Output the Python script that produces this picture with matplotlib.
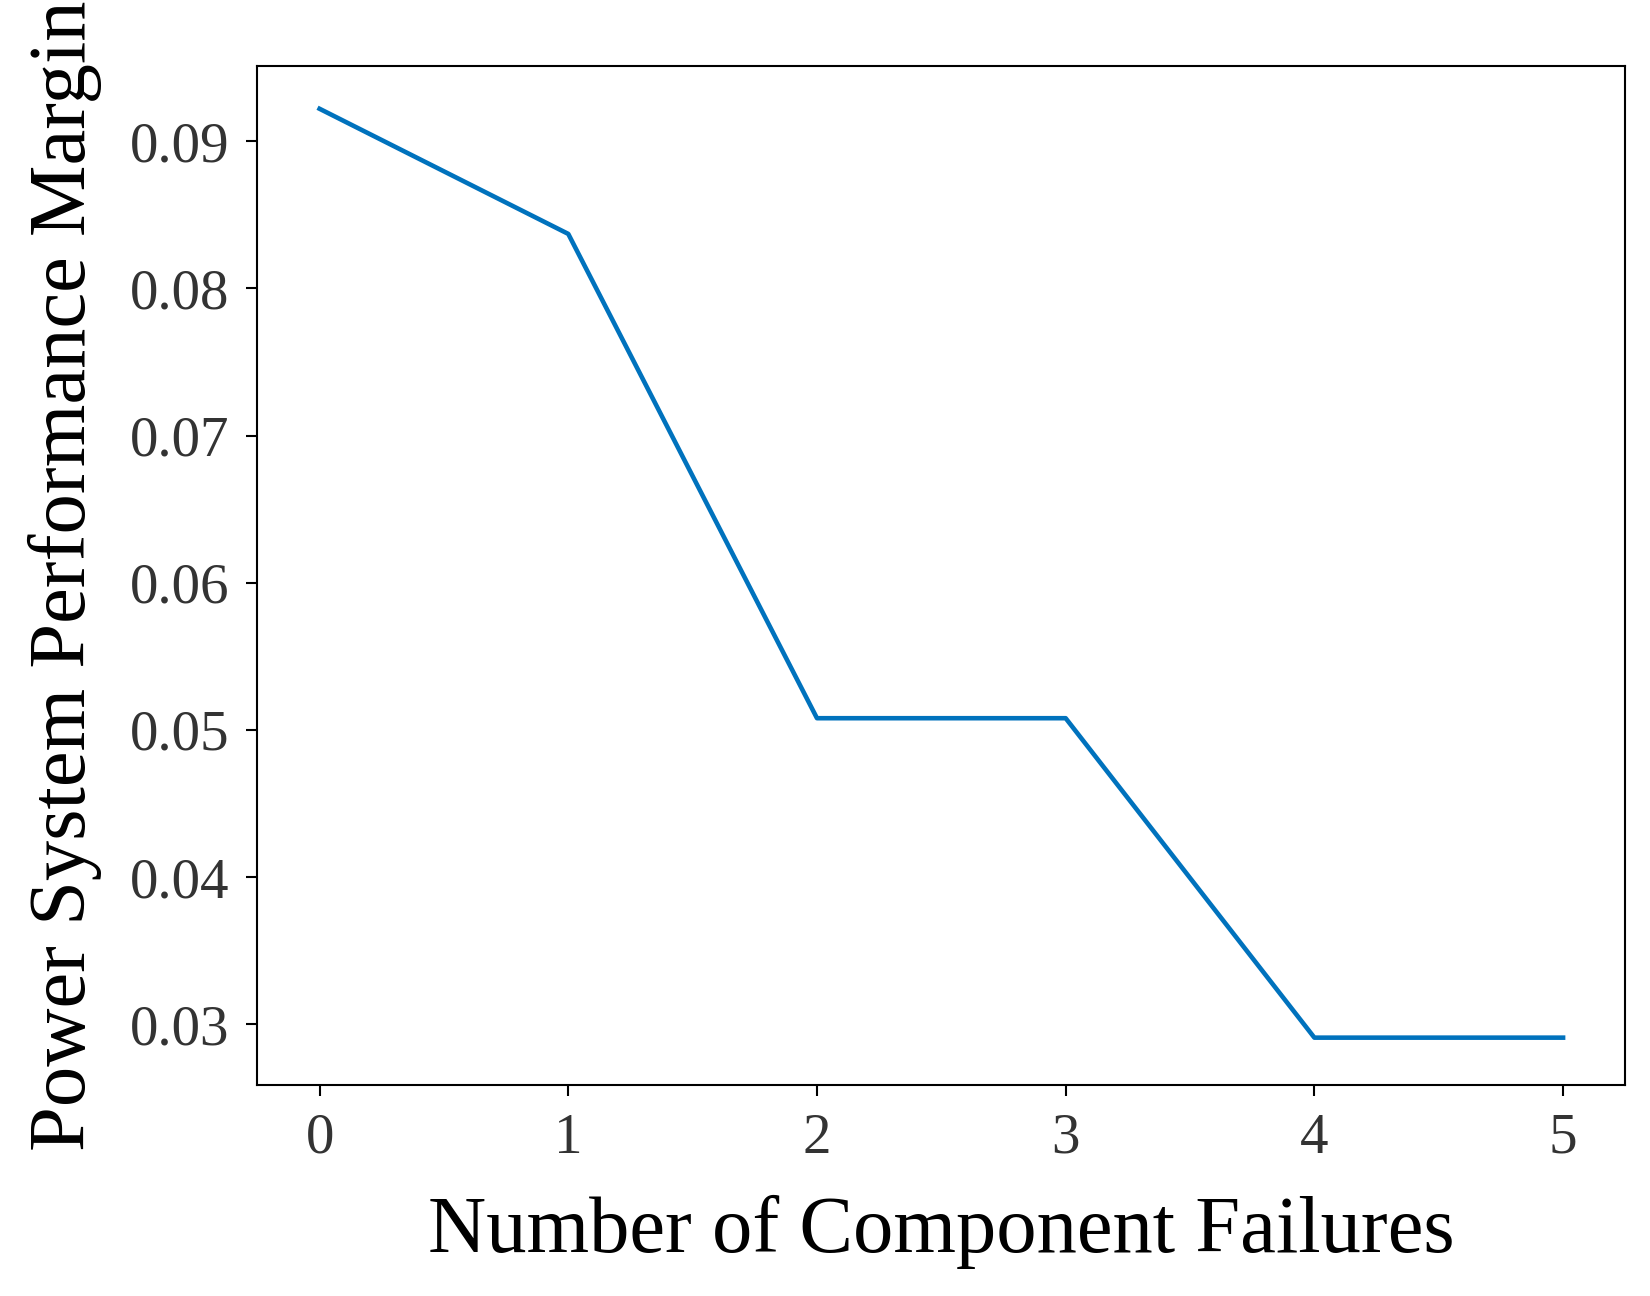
import matplotlib.pyplot as plt

failures = [0, 1, 2, 3, 4, 5]
margin = [0.0922, 0.0837, 0.0508, 0.0508, 0.0291, 0.0291]

plt.rcParams['font.family'] = ['Liberation Serif', 'DejaVu Serif']

fig = plt.figure(figsize=(16.5, 12.96), dpi=100)
ax = fig.add_axes([0.156, 0.163, 0.829, 0.786])
ax.plot(failures, margin, color='#0072BD', linewidth=3.3)
ax.set_xlim(-0.25, 5.25)
ax.set_ylim(0.0259, 0.0951)
ax.set_xticks(failures)
ax.set_yticks([0.03, 0.04, 0.05, 0.06, 0.07, 0.08, 0.09])
ax.set_yticklabels(['0.03', '0.04', '0.05', '0.06', '0.07', '0.08', '0.09'])
ax.tick_params(labelsize=41, labelcolor='#333333', length=8, width=1.5, pad=12)
for s in ax.spines.values():
    s.set_linewidth(1.5)
ax.set_xlabel('Number of Component Failures', fontsize=58, labelpad=22)
ax.set_ylabel('Power System Performance Margin', fontsize=58, labelpad=20)
fig.savefig('out.png')
